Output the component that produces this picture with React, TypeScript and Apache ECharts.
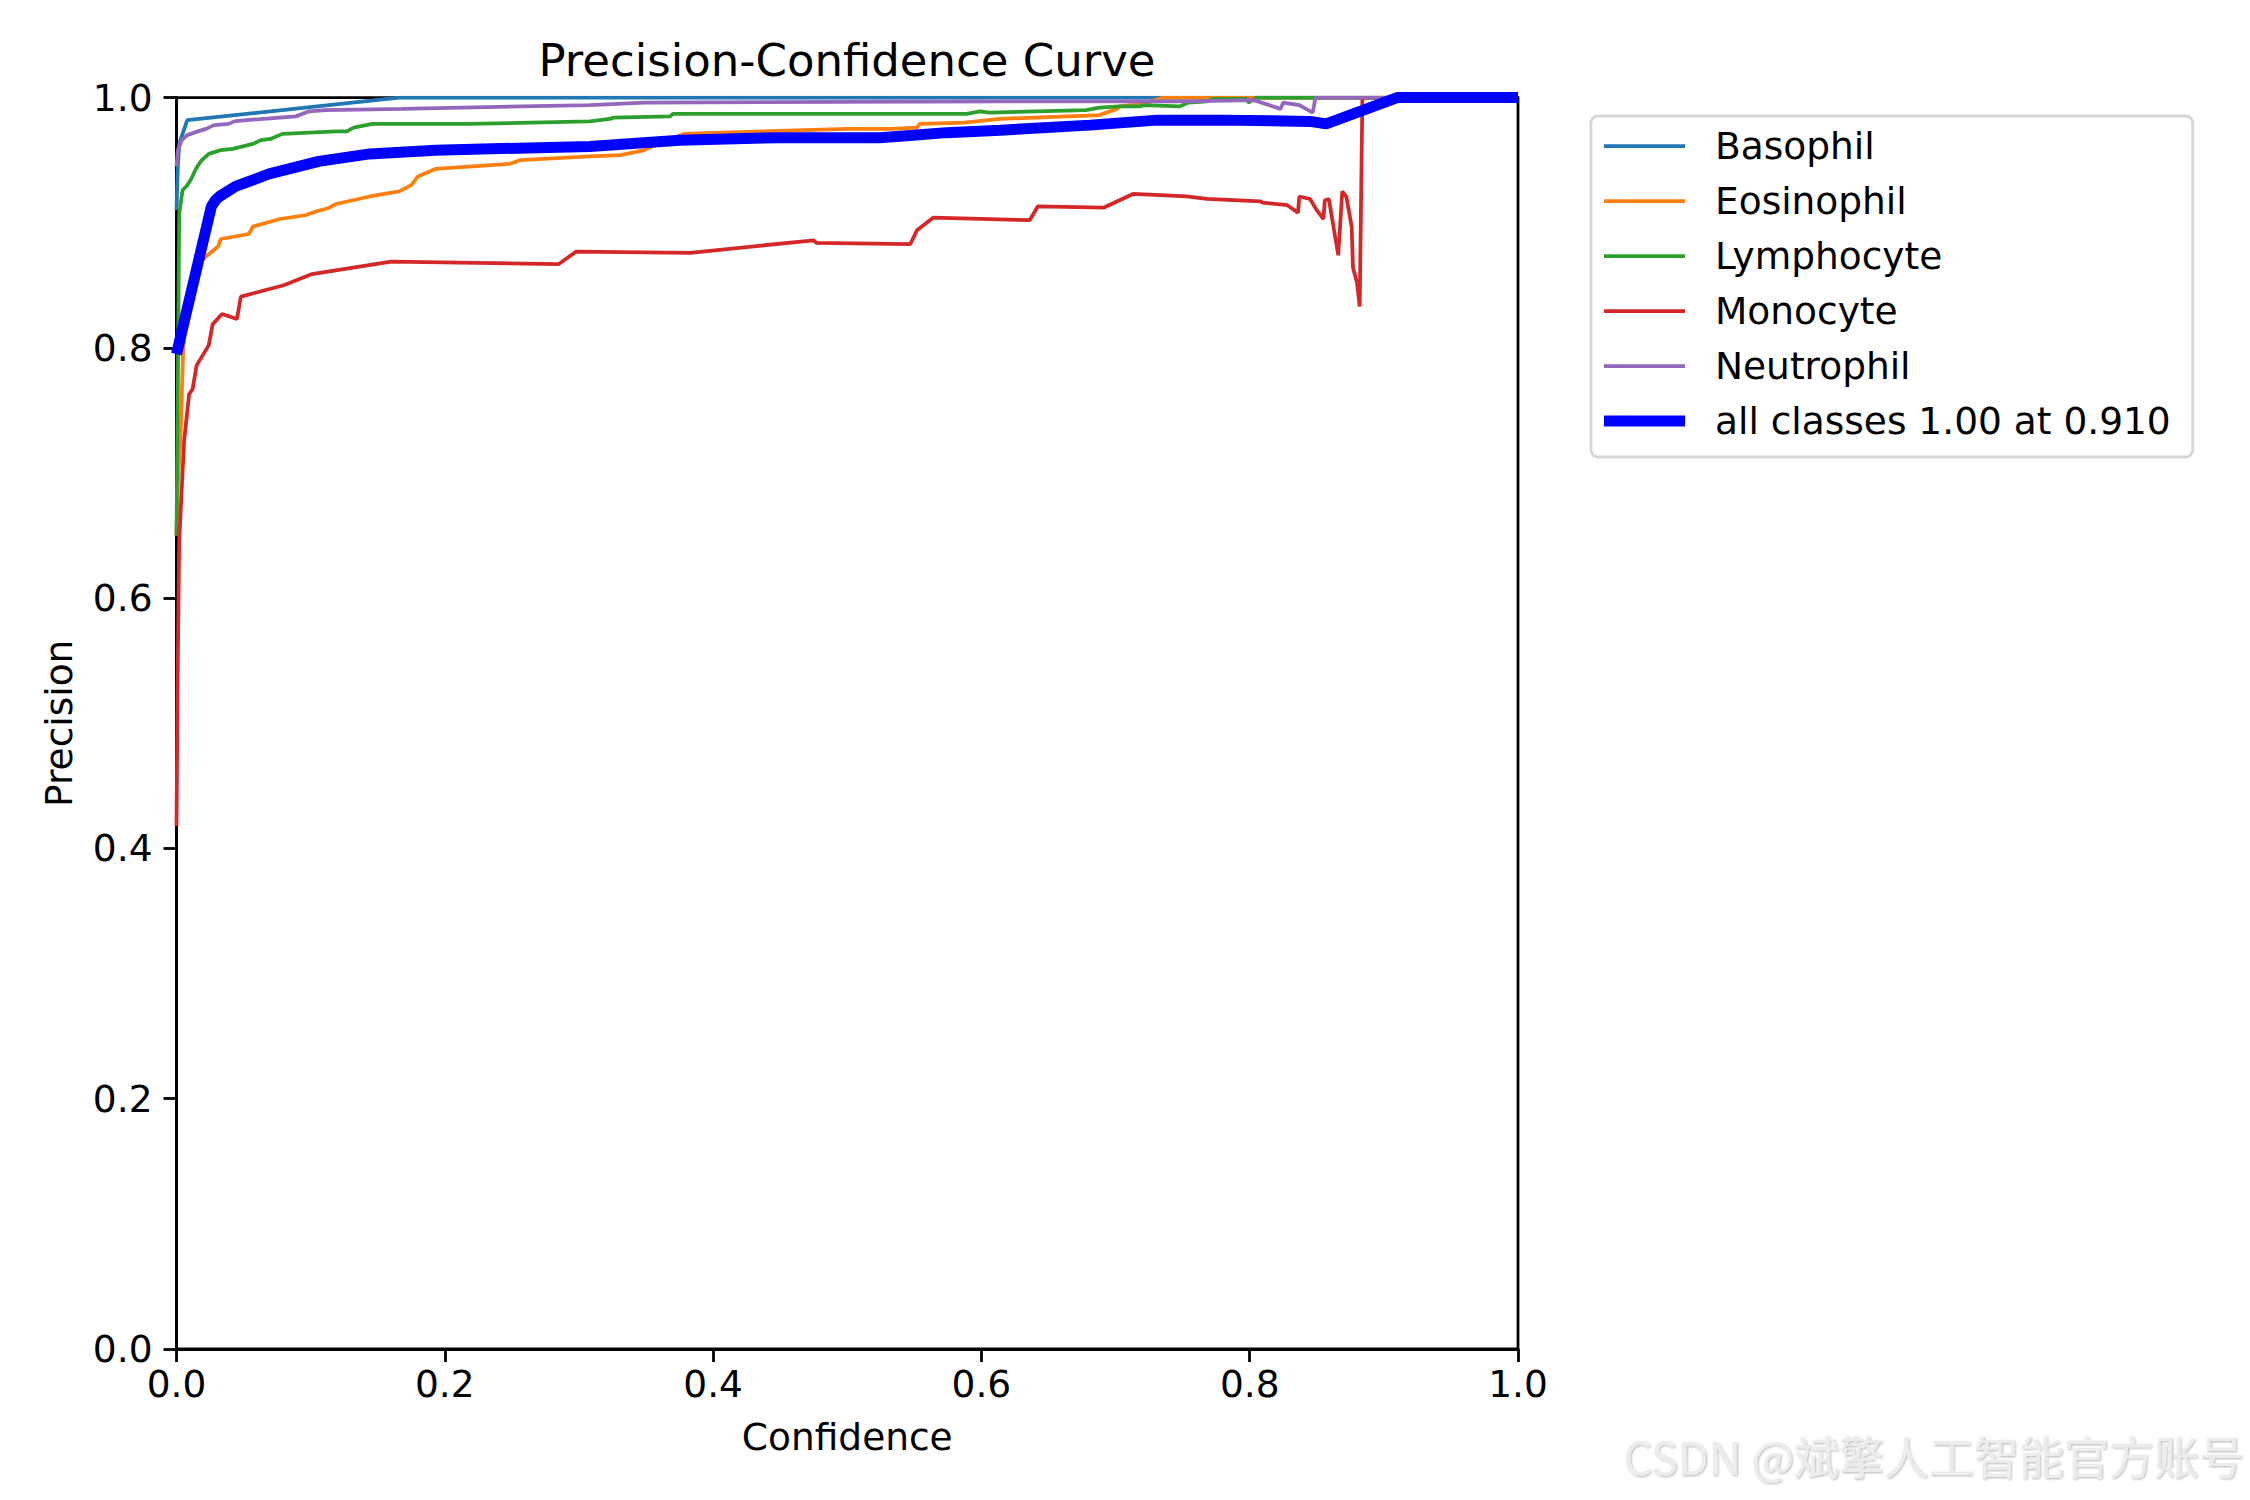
import React, { useEffect, useRef } from 'react';
import * as echarts from 'echarts';

// [confidence, precision] pairs
const basophil: [number, number][] = [
    [0, 0.91], [0.001, 0.945], [0.002, 0.963], [0.008, 0.982], [0.166, 1.0], [1, 1.0]
];

const eosinophil: [number, number][] = [
    [0, 0.65], [0.001, 0.69], [0.003, 0.73], [0.005, 0.8], [0.008, 0.833], [0.012, 0.846],
    [0.018, 0.869], [0.022, 0.873], [0.031, 0.881], [0.033, 0.887], [0.054, 0.891], [0.057, 0.897],
    [0.077, 0.903], [0.096, 0.906], [0.104, 0.909], [0.114, 0.912], [0.119, 0.915], [0.144, 0.921],
    [0.166, 0.925], [0.175, 0.93], [0.18, 0.937], [0.193, 0.943], [0.248, 0.947], [0.256, 0.95],
    [0.308, 0.953], [0.331, 0.954], [0.349, 0.958], [0.35, 0.959], [0.378, 0.971], [0.5, 0.975],
    [0.532, 0.975], [0.552, 0.976], [0.554, 0.979], [0.587, 0.98], [0.614, 0.983], [0.688, 0.986],
    [0.701, 0.991], [0.703, 0.993], [0.72, 0.995], [0.736, 1.0], [1, 1.0]
];

const lymphocyte: [number, number][] = [
    [0, 0.65], [0.001, 0.766], [0.002, 0.907], [0.0045, 0.926], [0.008, 0.93], [0.011, 0.935],
    [0.0144, 0.943], [0.018, 0.949], [0.024, 0.955], [0.033, 0.958], [0.042, 0.959], [0.057, 0.963],
    [0.063, 0.966], [0.07, 0.967], [0.079, 0.971], [0.119, 0.973], [0.127, 0.973], [0.132, 0.976],
    [0.146, 0.979], [0.218, 0.979], [0.308, 0.981], [0.323, 0.983], [0.326, 0.984], [0.368, 0.985],
    [0.37, 0.987], [0.589, 0.987], [0.599, 0.989], [0.606, 0.988], [0.678, 0.99], [0.688, 0.992],
    [0.703, 0.993], [0.718, 0.993], [0.721, 0.994], [0.748, 0.993], [0.754, 0.996], [0.768, 0.997],
    [0.773, 0.999], [0.798, 0.999], [0.799, 0.996], [0.805, 1.0], [1, 1.0]
];

const monocyte: [number, number][] = [
    [0, 0.418], [0.001, 0.55], [0.002, 0.646], [0.0057, 0.726], [0.0094, 0.763], [0.012, 0.767],
    [0.015, 0.786], [0.024, 0.802], [0.027, 0.819], [0.034, 0.827], [0.045, 0.823], [0.048, 0.841],
    [0.08, 0.85], [0.101, 0.859], [0.16, 0.869], [0.285, 0.867], [0.298, 0.877], [0.383, 0.876],
    [0.475, 0.886], [0.477, 0.884], [0.547, 0.883], [0.552, 0.894], [0.564, 0.904], [0.636, 0.902],
    [0.642, 0.913], [0.691, 0.912], [0.713, 0.923], [0.753, 0.921], [0.768, 0.919], [0.808, 0.917],
    [0.81, 0.916], [0.828, 0.914], [0.836, 0.908], [0.837, 0.921], [0.845, 0.919], [0.85, 0.91],
    [0.855, 0.903], [0.856, 0.918], [0.859, 0.919], [0.866, 0.874], [0.869, 0.925], [0.872, 0.921],
    [0.876, 0.897], [0.877, 0.864], [0.88, 0.852], [0.882, 0.833], [0.884, 1.0], [1, 1.0]
];

const neutrophil: [number, number][] = [
    [0, 0.945], [0.001, 0.958], [0.004, 0.966], [0.008, 0.97], [0.016, 0.973], [0.022, 0.975],
    [0.028, 0.978], [0.039, 0.979], [0.043, 0.981], [0.052, 0.982], [0.089, 0.985], [0.099, 0.989],
    [0.111, 0.99], [0.168, 0.991], [0.308, 0.994], [0.349, 0.996], [0.614, 0.997], [0.75, 0.997],
    [0.803, 0.998], [0.823, 0.991], [0.825, 0.996], [0.837, 0.994], [0.847, 0.988], [0.849, 1.0],
    [1, 1.0]
];

const allClasses: [number, number][] = [
    [0, 0.795], [0.026, 0.913], [0.029, 0.918], [0.032, 0.921], [0.044, 0.929], [0.069, 0.939],
    [0.106, 0.949], [0.144, 0.955], [0.193, 0.958], [0.308, 0.961], [0.375, 0.966], [0.45, 0.968],
    [0.524, 0.968], [0.549, 0.97], [0.574, 0.972], [0.614, 0.974], [0.681, 0.978], [0.731, 0.982],
    [0.78, 0.982], [0.845, 0.981], [0.857, 0.979], [0.91, 1.0], [1, 1.0]
];

const classNames = ['Basophil', 'Eosinophil', 'Lymphocyte', 'Monocyte', 'Neutrophil'];
const classData = [basophil, eosinophil, lymphocyte, monocyte, neutrophil];
const classColors = ['#1f77b4', '#ff7f0e', '#2ca02c', '#d62728', '#9467bd'];
const allName = 'all classes 1.00 at 0.910';

const FONT = 'DejaVu Sans';
const FS = 37.5;

const App = () => {
    const chartRef = useRef<HTMLDivElement>(null);

    useEffect(() => {
        if (!chartRef.current) return;
        document.body.style.margin = '0';
        const myChart = echarts.init(chartRef.current, null, { renderer: 'svg' });

        const series: any[] = classNames.map((name, i) => ({
            name,
            type: 'line',
            data: classData[i],
            symbol: 'none',
            lineStyle: { color: classColors[i], width: 3.75 },
            itemStyle: { color: classColors[i] },
        }));
        series.push({
            name: allName,
            type: 'line',
            data: allClasses,
            symbol: 'none',
            lineStyle: { color: '#0000ff', width: 11 },
            itemStyle: { color: '#0000ff' },
        });

        const axisCommon = {
            type: 'value',
            min: 0,
            max: 1,
            interval: 0.2,
            splitLine: { show: false },
            axisLine: { show: true, lineStyle: { color: '#000', width: 2.8 } },
            axisTick: { show: true, length: 13, lineStyle: { color: '#000', width: 2.8 } },
            nameTextStyle: { fontFamily: FONT, fontSize: FS, color: '#000' },
        };

        // thin bar icons so the legend handles look like plain line segments
        const legendData = [
            ...classNames.map((name) => ({ name, icon: 'path://M0,0H81V3.75H0Z' })),
            { name: allName, icon: 'path://M0,0H81V11H0Z' },
        ];

        myChart.setOption({
            animation: false,
            title: {
                text: 'Precision-Confidence Curve',
                left: 847,
                top: 38,
                textAlign: 'center',
                padding: 0,
                textStyle: { fontFamily: FONT, fontSize: 45, fontWeight: 'normal', color: '#000' },
            },
            grid: {
                left: 176.5,
                right: 732,
                top: 97.6,
                bottom: 151,
                show: true,
                borderColor: '#000',
                borderWidth: 2.8,
                backgroundColor: 'transparent',
            },
            legend: {
                orient: 'vertical',
                left: 1591,
                top: 116,
                data: legendData,
                itemWidth: 81,
                itemHeight: 20,
                itemGap: 15,
                padding: [10, 22, 16, 13],
                backgroundColor: '#fff',
                borderColor: '#d6d6d6',
                borderWidth: 2.8,
                borderRadius: 7,
                textStyle: {
                    fontFamily: FONT,
                    fontSize: FS,
                    lineHeight: 40,
                    color: '#000',
                    padding: [0, 0, 0, 25],
                },
            },
            xAxis: {
                ...axisCommon,
                name: 'Confidence',
                nameLocation: 'middle',
                nameGap: 69,
                axisLabel: {
                    fontFamily: FONT,
                    fontSize: FS,
                    color: '#000',
                    margin: 16,
                    formatter: (v: number) => v.toFixed(1),
                },
            },
            yAxis: {
                ...axisCommon,
                name: 'Precision',
                nameLocation: 'middle',
                nameGap: 99,
                axisLabel: {
                    fontFamily: FONT,
                    fontSize: FS,
                    color: '#000',
                    margin: 24,
                    formatter: (v: number) => v.toFixed(1),
                },
            },
            graphic: [
                {
                    type: 'text',
                    right: 6,
                    top: 1433,
                    style: {
                        text: 'CSDN @斌擎人工智能官方账号',
                        fontFamily: 'Liberation Sans Narrow, Noto Sans CJK SC',
                        fontSize: 45,
                        fill: '#ececec',
                        textShadowColor: 'rgba(0,0,0,0.3)',
                        textShadowBlur: 2,
                        textShadowOffsetX: 1,
                        textShadowOffsetY: 1,
                    },
                },
            ],
            series,
        });

        return () => {
            myChart.dispose();
        };
    }, []);

    return <div ref={chartRef} style={{ width: '2250px', height: '1500px' }} />;
};

export default App;
